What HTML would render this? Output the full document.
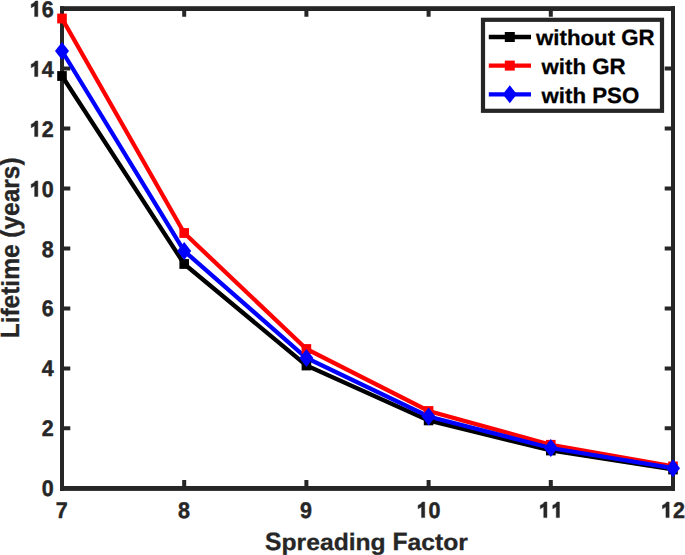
<!DOCTYPE html>
<html><head><meta charset="utf-8"><style>
html,body{margin:0;padding:0;background:#fff;width:685px;height:555px;overflow:hidden}
svg{display:block}
text{font-family:"Liberation Sans",sans-serif;font-weight:bold;font-kerning:none;text-rendering:geometricPrecision}
</style></head><body>
<svg width="685" height="555" viewBox="0 0 685 555">
<rect width="685" height="555" fill="#fff"/>
<g fill="#262626"><rect x="60" y="6.2" width="615" height="4.8"/><rect x="60" y="486.0" width="615" height="4.9"/><rect x="60" y="6.2" width="4" height="484.7"/><rect x="671" y="6.2" width="4" height="484.7"/></g>
<path d="M184.2 488.3v-8.3M184.2 8.5v8.3M306.4 488.3v-8.3M306.4 8.5v8.3M428.6 488.3v-8.3M428.6 8.5v8.3M550.8 488.3v-8.3M550.8 8.5v8.3M62.0 428.3h8.3M673.0 428.3h-8.3M62.0 368.4h8.3M673.0 368.4h-8.3M62.0 308.4h8.3M673.0 308.4h-8.3M62.0 248.4h8.3M673.0 248.4h-8.3M62.0 188.4h8.3M673.0 188.4h-8.3M62.0 128.4h8.3M673.0 128.4h-8.3M62.0 68.5h8.3M673.0 68.5h-8.3" stroke="#262626" stroke-width="4" fill="none"/>
<g fill="#262626" font-size="21.5" stroke="#262626" stroke-width="0.45" stroke-linejoin="round">
<text text-anchor="middle" transform="translate(47.65 496.40) scale(1 1.05)">0</text>
<text text-anchor="middle" transform="translate(47.65 436.43) scale(1 1.05)">2</text>
<text text-anchor="middle" transform="translate(47.65 376.45) scale(1 1.05)">4</text>
<text text-anchor="middle" transform="translate(47.65 316.48) scale(1 1.05)">6</text>
<text text-anchor="middle" transform="translate(47.65 256.50) scale(1 1.05)">8</text>
<path transform="translate(35.15 196.53)" d="M-0.5 0H2.7V-15.6H0.3C-0.5 -14.2 -2.2 -13.0 -3.95 -12.4V-8.9C-2.6 -9.4 -1.5 -10.1 -0.5 -10.9Z"/>
<text text-anchor="middle" transform="translate(47.65 196.53) scale(1 1.05)">0</text>
<path transform="translate(35.15 136.55)" d="M-0.5 0H2.7V-15.6H0.3C-0.5 -14.2 -2.2 -13.0 -3.95 -12.4V-8.9C-2.6 -9.4 -1.5 -10.1 -0.5 -10.9Z"/>
<text text-anchor="middle" transform="translate(47.65 136.55) scale(1 1.05)">2</text>
<path transform="translate(35.15 76.58)" d="M-0.5 0H2.7V-15.6H0.3C-0.5 -14.2 -2.2 -13.0 -3.95 -12.4V-8.9C-2.6 -9.4 -1.5 -10.1 -0.5 -10.9Z"/>
<text text-anchor="middle" transform="translate(47.65 76.58) scale(1 1.05)">4</text>
<path transform="translate(35.15 16.60)" d="M-0.5 0H2.7V-15.6H0.3C-0.5 -14.2 -2.2 -13.0 -3.95 -12.4V-8.9C-2.6 -9.4 -1.5 -10.1 -0.5 -10.9Z"/>
<text text-anchor="middle" transform="translate(47.65 16.60) scale(1 1.05)">6</text>
<text text-anchor="middle" transform="translate(61.70 517.60) scale(1 1.05)">7</text>
<text text-anchor="middle" transform="translate(183.90 517.60) scale(1 1.05)">8</text>
<text text-anchor="middle" transform="translate(306.10 517.60) scale(1 1.05)">9</text>
<path transform="translate(422.05 517.60)" d="M-0.5 0H2.7V-15.6H0.3C-0.5 -14.2 -2.2 -13.0 -3.95 -12.4V-8.9C-2.6 -9.4 -1.5 -10.1 -0.5 -10.9Z"/>
<text text-anchor="middle" transform="translate(434.55 517.60) scale(1 1.05)">0</text>
<path transform="translate(544.25 517.60)" d="M-0.5 0H2.7V-15.6H0.3C-0.5 -14.2 -2.2 -13.0 -3.95 -12.4V-8.9C-2.6 -9.4 -1.5 -10.1 -0.5 -10.9Z"/>
<path transform="translate(556.75 517.60)" d="M-0.5 0H2.7V-15.6H0.3C-0.5 -14.2 -2.2 -13.0 -3.95 -12.4V-8.9C-2.6 -9.4 -1.5 -10.1 -0.5 -10.9Z"/>
<path transform="translate(666.45 517.60)" d="M-0.5 0H2.7V-15.6H0.3C-0.5 -14.2 -2.2 -13.0 -3.95 -12.4V-8.9C-2.6 -9.4 -1.5 -10.1 -0.5 -10.9Z"/>
<text text-anchor="middle" transform="translate(678.95 517.60) scale(1 1.05)">2</text>
</g>
<g fill="#262626" font-size="24.66" stroke="#262626" stroke-width="0.3" stroke-linejoin="round">
<text transform="translate(265.09 550.20) scale(1 1.02)">S</text>
<text transform="translate(281.54 550.20) scale(1 0.93)">p</text>
<text transform="translate(296.60 550.20) scale(1 0.93)">r</text>
<text transform="translate(306.20 550.20) scale(1 0.93)">e</text>
<text transform="translate(319.91 550.20) scale(1 0.93)">a</text>
<text transform="translate(333.63 550.20) scale(1 0.96)">d</text>
<text transform="translate(348.69 550.20) scale(1 0.96)">i</text>
<text transform="translate(355.54 550.20) scale(1 0.93)">n</text>
<text transform="translate(370.61 550.20) scale(1 0.93)">g</text>
<text transform="translate(392.52 550.20) scale(1 1.02)">F</text>
<text transform="translate(407.58 550.20) scale(1 0.93)">a</text>
<text transform="translate(421.30 550.20) scale(1 0.93)">c</text>
<text transform="translate(435.01 550.20) scale(1 0.96)">t</text>
<text transform="translate(443.22 550.20) scale(1 0.93)">o</text>
<text transform="translate(458.29 550.20) scale(1 0.93)">r</text>
<g transform="translate(19.45 0) rotate(-90)" font-size="24.47">
<text transform="translate(-338.29 0.00) scale(1 1.08)">L</text>
<text transform="translate(-323.34 0.00) scale(1 1.0)">i</text>
<text transform="translate(-316.54 0.00) scale(1 1.03)">f</text>
<text transform="translate(-308.39 0.00) scale(1 1.06)">e</text>
<text transform="translate(-294.78 0.00) scale(1 1.09)">t</text>
<text transform="translate(-286.63 0.00) scale(1 1.0)">i</text>
<text transform="translate(-279.84 0.00) scale(1 1.06)">m</text>
<text transform="translate(-258.08 0.00) scale(1 1.06)">e</text>
<text transform="translate(-237.67 0.00) scale(1 1.08)">(</text>
<text transform="translate(-229.52 0.00) scale(1 1.06)">y</text>
<text transform="translate(-215.91 0.00) scale(1 1.06)">e</text>
<text transform="translate(-202.30 0.00) scale(1 1.06)">a</text>
<text transform="translate(-188.69 0.00) scale(1 1.06)">r</text>
<text transform="translate(-179.17 0.00) scale(1 1.06)">s</text>
<text transform="translate(-165.56 0.00) scale(1 1.08)">)</text>
</g></g>
<g fill="none" stroke-width="4.3">
<polyline stroke="#000" points="62.0,76 184.2,264 306.4,365.5 428.6,420.4 550.8,450.5 673.0,469.5"/>
<polyline stroke="#f00" points="62.0,18.5 184.2,233 306.4,349 428.6,411 550.8,444.8 673.0,466.4"/>
<polyline stroke="#00f" points="62.0,51 184.2,251 306.4,358 428.6,416.5 550.8,448 673.0,468.2"/>
</g>
<g fill="#000"><rect x="57.2" y="71.1" width="9.6" height="9.8"/><rect x="179.4" y="259.1" width="9.6" height="9.8"/><rect x="301.6" y="360.6" width="9.6" height="9.8"/><rect x="423.8" y="415.5" width="9.6" height="9.8"/><rect x="546.0" y="445.6" width="9.6" height="9.8"/><rect x="668.2" y="464.6" width="9.6" height="9.8"/></g>
<g fill="#f00"><rect x="57.2" y="13.6" width="9.6" height="9.8"/><rect x="179.4" y="228.1" width="9.6" height="9.8"/><rect x="301.6" y="344.1" width="9.6" height="9.8"/><rect x="423.8" y="406.1" width="9.6" height="9.8"/><rect x="546.0" y="439.9" width="9.6" height="9.8"/><rect x="668.2" y="461.5" width="9.6" height="9.8"/></g>
<g fill="#00f"><path d="M62.0 42l7 9-7 9-7-9z"/><path d="M184.2 242l7 9-7 9-7-9z"/><path d="M306.4 349l7 9-7 9-7-9z"/><path d="M428.6 407.5l7 9-7 9-7-9z"/><path d="M550.8 439l7 9-7 9-7-9z"/><path d="M673.0 459.2l7 9-7 9-7-9z"/></g>
<rect x="483" y="19.8" width="179" height="91" fill="#fff" stroke="#262626" stroke-width="4.2"/>
<g stroke-width="4.3">
<line x1="488.8" y1="37" x2="531" y2="37" stroke="#000"/>
<line x1="488.8" y1="65.6" x2="531" y2="65.6" stroke="#f00"/>
<line x1="488.8" y1="94.3" x2="531" y2="94.3" stroke="#00f"/>
</g>
<rect x="504.8" y="32" width="10" height="10" fill="#000"/>
<rect x="504.8" y="60.6" width="10" height="10" fill="#f00"/>
<path d="M509.8 85.3l7 9-7 9-7-9z" fill="#00f"/>
<g fill="#000" font-size="22.26" stroke="#000" stroke-width="0.3" stroke-linejoin="round">
<text transform="translate(536.00 45.00) scale(1 0.95)">w</text>
<text transform="translate(553.31 45.00) scale(1 0.97)">i</text>
<text transform="translate(559.50 45.00) scale(1 0.97)">t</text>
<text transform="translate(566.91 45.00) scale(1 0.97)">h</text>
<text transform="translate(580.51 45.00) scale(1 0.95)">o</text>
<text transform="translate(594.11 45.00) scale(1 0.95)">u</text>
<text transform="translate(607.70 45.00) scale(1 0.97)">t</text>
<text transform="translate(621.30 45.00) scale(1 1.0)">G</text>
<text transform="translate(638.62 45.00) scale(1 1.0)">R</text>
<text transform="translate(541.50 74.20) scale(1 0.95)">w</text>
<text transform="translate(558.81 74.20) scale(1 0.97)">i</text>
<text transform="translate(565.00 74.20) scale(1 0.97)">t</text>
<text transform="translate(572.41 74.20) scale(1 0.97)">h</text>
<text transform="translate(592.19 74.20) scale(1 1.0)">G</text>
<text transform="translate(609.51 74.20) scale(1 1.0)">R</text>
<text transform="translate(541.50 102.90) scale(1 0.95)">w</text>
<text transform="translate(558.81 102.90) scale(1 0.97)">i</text>
<text transform="translate(565.00 102.90) scale(1 0.97)">t</text>
<text transform="translate(572.41 102.90) scale(1 0.97)">h</text>
<text transform="translate(592.19 102.90) scale(1 1.0)">P</text>
<text transform="translate(607.04 102.90) scale(1 1.0)">S</text>
<text transform="translate(621.89 102.90) scale(1 1.0)">O</text>
</g>
</svg>
</body></html>
